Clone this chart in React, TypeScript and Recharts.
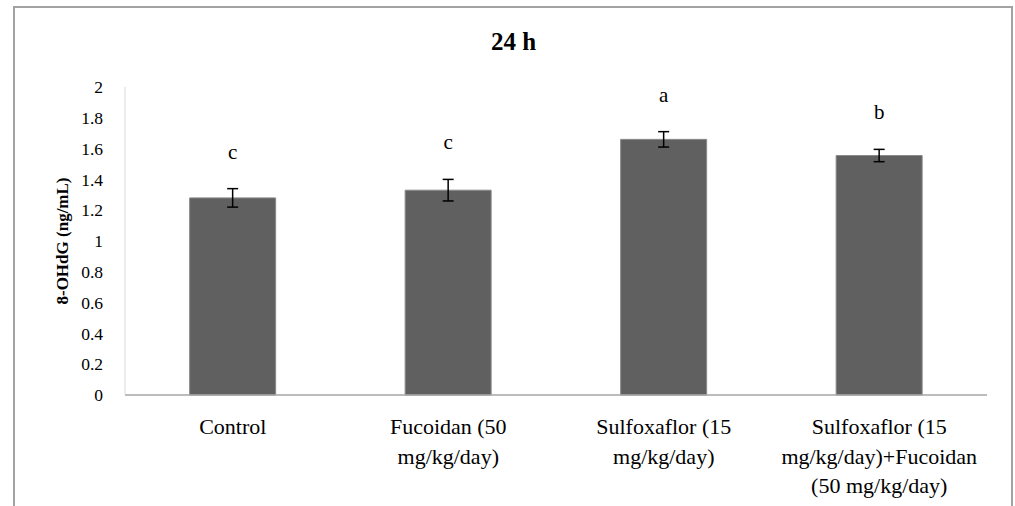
import { BarChart, Bar, XAxis, YAxis, ErrorBar, LabelList, Label } from 'recharts';

const categories = [
  'Control',
  'Fucoidan (50 mg/kg/day)',
  'Sulfoxaflor (15 mg/kg/day)',
  'Sulfoxaflor (15 mg/kg/day)+Fucoidan (50 mg/kg/day)',
];
const tickLines = [
  ['Control'],
  ['Fucoidan (50', 'mg/kg/day)'],
  ['Sulfoxaflor (15', 'mg/kg/day)'],
  ['Sulfoxaflor (15', 'mg/kg/day)+Fucoidan', '(50 mg/kg/day)'],
];
const means = [1.28, 1.33, 1.66, 1.555];
const errors = [0.06, 0.07, 0.05, 0.04];
const letters = ['c', 'c', 'a', 'b'];
const yTicks = [0, 0.2, 0.4, 0.6, 0.8, 1, 1.2, 1.4, 1.6, 1.8, 2];

const data = categories.map((name, i) => ({ name, value: means[i], err: errors[i] }));

const FONT = 'Liberation Serif, DejaVu Serif, serif';

function CategoryTick(props: any) {
  const { x, y, index } = props;
  const lines = tickLines[index] || [];
  return (
    <text x={x} y={y} textAnchor="middle" style={{ fontFamily: FONT }} fontSize={22} fill="#000">
      {lines.map((line, i) => (
        <tspan key={i} x={x} y={y + 39 + i * 29.5}>
          {line}
        </tspan>
      ))}
    </text>
  );
}

// significance letter sits a fixed distance above the error bar
function LetterLabel(props: any) {
  const { x, y, width, height, index, value } = props;
  const errPx = (errors[index] * height) / value;
  return (
    <text
      x={x + width / 2}
      y={y - errPx - 37}
      textAnchor="middle"
      dominantBaseline="central"
      style={{ fontFamily: FONT }}
      fontSize={21}
      fill="#000"
    >
      {letters[index]}
    </text>
  );
}

export default function App() {
  return (
    <div
      style={{
        position: 'absolute',
        left: 0,
        top: 0,
        width: 1015,
        height: 506,
        overflow: 'hidden',
        background: '#fff',
        fontFamily: FONT,
      }}
    >
      <div
        style={{
          position: 'absolute',
          left: 13,
          top: 6,
          width: 996,
          height: 540,
          border: '2px solid #a3a3a3',
        }}
      />
      <div
        style={{
          position: 'absolute',
          left: 0,
          top: 28,
          width: 1027,
          textAlign: 'center',
          fontFamily: FONT,
          fontWeight: 'bold',
          fontSize: 25,
          color: '#000',
        }}
      >
        24 h
      </div>
      <div style={{ position: 'absolute', left: 0, top: 0 }}>
        <BarChart
          width={1015}
          height={506}
          data={data}
          margin={{ top: 87, right: 28, bottom: 0, left: 0 }}
          barCategoryGap="30%"
        >
          <XAxis
            dataKey="name"
            height={111}
            tickLine={false}
            tickSize={0}
            tickMargin={0}
            axisLine={{ stroke: '#a6a6a6', strokeWidth: 1.5 }}
            tick={<CategoryTick />}
            interval={0}
          />
          <YAxis
            width={125}
            domain={[0, 2]}
            ticks={yTicks}
            tickLine={false}
            tickSize={0}
            tickMargin={22}
            axisLine={{ stroke: '#d9d9d9' }}
            tick={{ style: { fontFamily: FONT }, fontSize: 17.5, fill: '#000' }}
          >
            <Label
              value="8-OHdG (ng/mL)"
              angle={-90}
              position="insideLeft"
              offset={0}
              dx={62}
              style={{
                fontFamily: FONT,
                fontWeight: 'bold',
                fontSize: 17,
                fill: '#000',
                textAnchor: 'middle',
              }}
            />
          </YAxis>
          <Bar dataKey="value" fill="#606060" stroke="#8a8a8a" strokeWidth={1} isAnimationActive={false}>
            <ErrorBar dataKey="err" width={5.5} stroke="#000" strokeWidth={1.5} direction="y" />
            <LabelList dataKey="value" content={<LetterLabel />} />
          </Bar>
        </BarChart>
      </div>
    </div>
  );
}
